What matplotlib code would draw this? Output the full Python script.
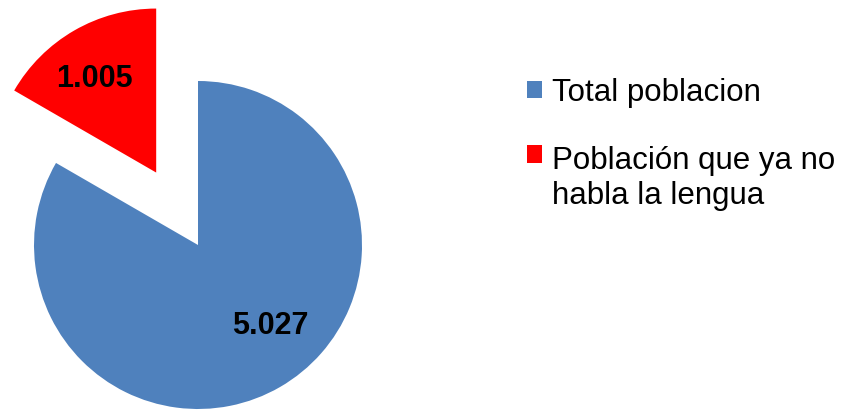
import matplotlib.pyplot as plt
import matplotlib.patches as mpatches
from matplotlib.legend_handler import HandlerPatch

plt.rcParams['font.family'] = ['Liberation Sans', 'DejaVu Sans']

# datos
categorias = ["Total poblacion", "Población que ya no\nhabla la lengua"]
valores = [5.027, 1.005]
colores = ["#4F81BD", "#FF0000"]
separacion = [0, 0.51]

fig = plt.figure(figsize=(8.5, 4.14), dpi=100)
ax = fig.add_axes([0, 0, 1, 1])

# pie: azul empieza arriba y va en sentido horario
wedges, _ = ax.pie(valores, colors=colores, explode=separacion,
                   startangle=90, counterclock=False, radius=1,
                   wedgeprops=dict(linewidth=0))

# etiquetas de valores
posiciones = [(0.44, -0.49), (-0.63, 1.02)]
for v, (x, y) in zip(valores, posiciones):
    ax.text(x, y, f"{v:.3f}", ha='center', va='center',
            fontsize=22, fontweight='bold', color='black')

# 1 unidad = 164 px
ax.set_xlim(-198 / 164, (850 - 198) / 164)
ax.set_ylim(-(414 - 246) / 164, 246 / 164)
ax.set_aspect('auto')
ax.axis('off')


# cuadrito alineado con la primera linea del texto
def cuadro_arriba(legend, orig_handle, xdescent, ydescent, width, height, fontsize):
    return mpatches.Rectangle((-xdescent, -ydescent + 17.5), width, height)


leg = ax.legend(wedges, categorias, loc='upper left',
                bbox_to_anchor=(514 / 850, 1 - 66 / 414),
                bbox_transform=fig.transFigure, frameon=False,
                fontsize=22.5, handlelength=0.5, handleheight=0.5,
                handletextpad=0.3, labelspacing=1.2, borderaxespad=0,
                handler_map={wedges[1]: HandlerPatch(patch_func=cuadro_arriba)})
for t in leg.get_texts():
    t.set_linespacing(1.22)

fig.savefig("out.png", dpi=100)
